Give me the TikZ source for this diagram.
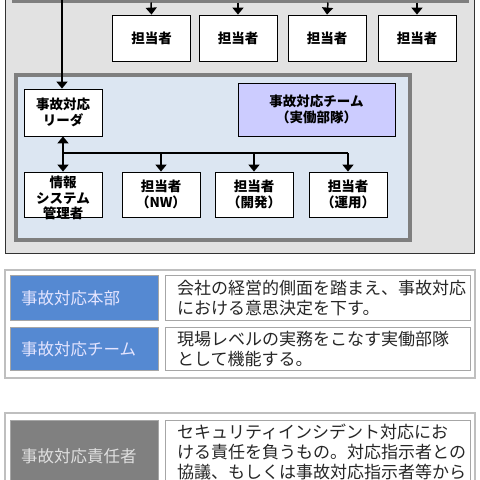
\documentclass[tikz,border=0pt]{standalone}
\usepackage{fontspec}
\newfontfamily\jp{Noto Sans CJK JP}
\usetikzlibrary{arrows.meta}
\definecolor{panel}{HTML}{E2E2E2}
\definecolor{frame}{HTML}{7F7F7F}
\definecolor{teamfill}{HTML}{DCE6F2}
\definecolor{lav}{HTML}{CCCCFF}
\definecolor{hdrblue}{HTML}{5589D2}
\definecolor{hdrgray}{HTML}{808080}
\definecolor{cellline}{HTML}{A6A6A6}
\tikzset{
  box/.style={draw=black, line width=0.8pt, fill=white, minimum width=78pt, minimum height=46pt, inner sep=0pt, align=center, font=\jp\bfseries\fontsize{13.5}{15.5}\selectfont},
  boxtext/.style={inner sep=0pt, align=center, font=\jp\bfseries\fontsize{13.5}{15.5}\selectfont},
  arr/.style={line width=1.5pt, -{Triangle[width=11pt,length=7pt]}},
  ln/.style={line width=1.5pt},
  hdr/.style={draw=cellline, line width=1pt, inner sep=0pt, anchor=north west},
  celltext/.style={anchor=west, inner sep=0pt, font=\jp\fontsize{17}{20}\selectfont, text=black!85},
  hdrtext/.style={anchor=west, inner sep=0pt, font=\jp\fontsize{16.5}{20}\selectfont, text=white!90!blue},
}
\begin{document}
\begin{tikzpicture}[x=1pt,y=-1pt]
\useasboundingbox (0,0) rectangle (480,480);
\begin{scope}
\clip (0,0) rectangle (480,480);
% outer panel
\draw[fill=panel, draw=black!80, line width=0.8pt] (5,-20) rectangle (474,253);
% HQ box bottom edge
\draw[fill=panel, draw=frame, line width=3.5pt] (14,-40) rectangle (467,1);
% top staff boxes
\node[box] (t1) at (151.5,38) {担当者};
\node[box] (t2) at (238,38) {担当者};
\node[box] (t3) at (327,38) {担当者};
\node[box] (t4) at (417,38) {担当者};
\coordinate (b1) at (151,2.5);
\coordinate (b2) at (238,2.5);
\coordinate (b3) at (328,2.5);
\coordinate (b4) at (417,2.5);
\draw[arr] (b1) -- (t1.north);
\draw[arr] (b2) -- (t2.north);
\draw[arr] (b3) -- (t3.north);
\draw[arr] (b4) -- (t4.north);
% team box
\draw[fill=teamfill, draw=frame, line width=4pt] (15.5,75) rectangle (409.5,240);
\node[box, fill=lav, minimum width=157pt, minimum height=53pt] (team) at (316.5,109.5) {事故対応チーム\\（実働部隊）};
\node[box, minimum height=47pt] (leader) at (63,112.5) {事故対応\\リーダ};
\node[box, minimum height=45pt] (info) at (63,194.5) {};
\node[boxtext] (infotext) at (63,198) {情報\\システム\\管理者};
\node[box, minimum height=45pt] (nw) at (161,194.5) {担当者\\（NW）};
\node[box, minimum height=45pt] (dev) at (254,194.5) {担当者\\（開発）};
\node[box, minimum height=45pt] (ops) at (348,194.5) {担当者\\（運用）};
% connectors
\coordinate (top0) at (62,-20);
\draw[arr] (top0) -- (top0 |- leader.north);
\coordinate (j0) at (63,153);
\coordinate (j3) at (348,153);
\draw[ln] (j0) -- (j3);
\draw[arr] (j0) -- (leader.south);
\draw[arr] (j0) -- (info.north);
\draw[arr] (j0 -| nw) -- (nw.north);
\draw[arr] (j0 -| dev) -- (dev.north);
\draw[arr] (j3) -- (ops.north);
% table 1
\draw[draw=black!25, line width=1.5pt, fill=white] (5,270) rectangle (475,378);
\node[hdr, fill=hdrblue, minimum width=148pt, minimum height=45pt] (h1) at (10,275) {};
\node[hdr, fill=white, minimum width=305pt, minimum height=45pt] (c1) at (165,275) {};
\node[hdr, fill=hdrblue, minimum width=148pt, minimum height=43pt] (h2) at (10,327) {};
\node[hdr, fill=white, minimum width=305pt, minimum height=43pt] (c2) at (165,327) {};
\node[hdrtext] at (21,298) {事故対応本部};
\node[hdrtext] at (21,349) {事故対応チーム};
\node[celltext] at (177,288) {会社の経営的側面を踏まえ、事故対応};
\node[celltext] at (177,308) {における意思決定を下す。};
\node[celltext] at (177,339) {現場レベルの実務をこなす実働部隊};
\node[celltext] at (177,359) {として機能する。};
% table 2
\draw[draw=black!25, line width=1.5pt, fill=white] (5,413) rectangle (475,520);
\node[hdr, fill=hdrgray, minimum width=148pt, minimum height=90pt] (h3) at (10,420) {};
\node[hdr, fill=white, minimum width=305pt, minimum height=90pt] (c3) at (165,420) {};
\node[hdrtext, text=black!12] at (21,456) {事故対応責任者};
\node[celltext] at (177,432) {セキュリティインシデント対応にお};
\node[celltext] at (177,452) {ける責任を負うもの。対応指示者との};
\node[celltext] at (177,472) {協議、もしくは事故対応指示者等から};
\end{scope}
\end{tikzpicture}
\end{document}
